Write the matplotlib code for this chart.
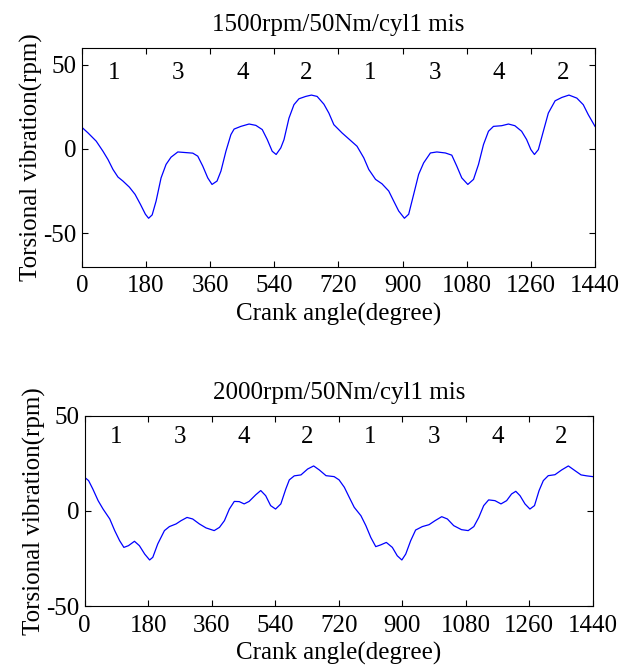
import matplotlib
matplotlib.use("Agg")
from matplotlib import pyplot as plt

plt.rcParams['font.family'] = 'Liberation Serif'
plt.rcParams['axes.unicode_minus'] = False
plt.rcParams['font.size'] = 18

# 1500rpm / 50Nm / cyl1 misfire
angle_1500 = [0, 17, 40, 59, 73, 87, 101, 115, 133, 149, 164, 178, 187, 197, 208, 222, 236,
              250, 269, 287, 311, 325, 339, 353, 365, 379, 390, 404, 418, 427, 446, 469, 488,
              506, 520, 534, 545, 558, 567, 581, 595, 609, 628, 644, 660, 679, 693, 707, 730,
              754, 772, 791, 805, 824, 842, 861, 875, 889, 905, 917, 931, 945, 959, 978, 996,
              1020, 1038, 1052, 1066, 1083, 1099, 1113, 1127, 1141, 1155, 1178, 1197, 1215,
              1234, 1248, 1260, 1270, 1281, 1295, 1309, 1328, 1347, 1367, 1389, 1407, 1421,
              1440]
vib_1500 = [12.8, 9.5, 4.6, -1.4, -6.3, -12.2, -16.7, -19.1, -22.7, -27.0, -32.9, -38.8,
            -41.2, -39.2, -31.0, -17.2, -9.2, -4.9, -1.8, -2.1, -2.5, -4.3, -10.2, -17.2,
            -21.1, -19.1, -13.2, -1.4, 8.5, 11.8, 13.4, 14.8, 14.0, 11.5, 5.6, -1.4, -3.3,
            0.6, 5.5, 18.3, 26.3, 29.8, 31.2, 32.0, 31.2, 26.6, 21.3, 14.4, 9.5, 5.0, 1.6,
            -5.3, -12.2, -18.1, -20.7, -25.0, -31.0, -36.9, -41.2, -38.8, -27.0, -15.1,
            -8.3, -2.4, -1.8, -2.4, -3.7, -10.2, -17.2, -21.1, -18.1, -9.2, 2.6, 10.5, 13.4,
            13.8, 14.8, 13.8, 10.5, 5.6, -0.4, -3.3, -0.4, 10.5, 21.3, 28.6, 30.6, 32.0,
            30.2, 26.3, 20.4, 13.4]

# 2000rpm / 50Nm / cyl1 misfire
angle_2000 = [0, 11, 23, 38, 52, 71, 85, 99, 111, 124, 141, 155, 170, 184, 193, 207, 226,
              240, 259, 273, 290, 306, 325, 344, 367, 382, 396, 410, 424, 438, 452, 466, 485,
              499, 513, 527, 541, 556, 570, 580, 594, 613, 632, 649, 665, 684, 707, 721, 736,
              750, 764, 783, 797, 811, 825, 839, 855, 872, 886, 899, 910, 924, 938, 957, 976,
              993, 1012, 1028, 1046, 1068, 1087, 1103, 1117, 1131, 1145, 1163, 1180, 1196,
              1210, 1222, 1234, 1248, 1262, 1275, 1288, 1300, 1314, 1333, 1352, 1371, 1390,
              1407, 1423, 1440]
vib_2000 = [17.6, 15.9, 11.5, 5.4, 1.0, -4.2, -10.3, -15.6, -19.1, -18.2, -15.9, -18.2,
            -22.6, -25.7, -24.3, -17.3, -10.3, -8.2, -6.8, -5.1, -3.4, -4.2, -6.8, -8.9,
            -10.3, -8.6, -5.1, 1.0, 5.0, 4.9, 3.7, 5.0, 8.5, 10.7, 8.0, 2.8, 1.0, 3.7, 11.5,
            16.3, 18.4, 18.9, 22.0, 23.6, 21.5, 18.5, 18.0, 16.3, 12.4, 7.1, 1.9, -2.5, -7.7,
            -13.9, -18.7, -17.8, -16.5, -19.1, -23.5, -25.7, -22.6, -15.6, -10.0, -8.2,
            -7.2, -5.1, -3.0, -4.2, -7.7, -9.8, -10.3, -8.2, -3.4, 2.8, 5.8, 5.4, 3.7, 5.4,
            8.9, 10.3, 8.0, 3.7, 1.0, 2.8, 10.7, 15.9, 18.5, 19.0, 21.5, 23.6, 21.1, 18.9,
            18.4, 18.0]

cyl_order = ['1', '3', '4', '2', '1', '3', '4', '2']
cyl_pos = [90, 270, 450, 630, 810, 990, 1170, 1350]
xticks = [0, 180, 360, 540, 720, 900, 1080, 1260, 1440]

fig = plt.figure(figsize=(6.22, 6.66), dpi=100)
ax1 = fig.add_axes([0.1318, 0.5995, 0.8248, 0.3285])
ax2 = fig.add_axes([0.1362, 0.0896, 0.8167, 0.2864])

panels = [(ax1, angle_1500, vib_1500, '1500rpm/50Nm/cyl1 mis', (-70, 60), 45),
          (ax2, angle_2000, vib_2000, '2000rpm/50Nm/cyl1 mis', (-50, 50), 39)]

for ax, x, y, title, ylim, ytxt in panels:
    ax.plot(x, y, color='#0000ff', linewidth=0.9)
    ax.set_xlim(0, 1440)
    ax.set_ylim(*ylim)
    ax.set_xticks(xticks)
    ax.set_yticks([-50, 0, 50])
    ax.tick_params(direction='in', top=True, right=True, length=4, pad=4)
    ax.tick_params(axis='x', pad=6)
    for c, p in zip(cyl_order, cyl_pos):
        ax.text(p, ytxt, c, ha='center', va='center')
    ax.set_title(title, pad=12, fontsize=18)
    ax.set_xlabel('Crank angle(degree)', labelpad=4)
    ax.set_ylabel('Torsional vibration(rpm)', labelpad=0)

plt.savefig('out.png', dpi=100)
